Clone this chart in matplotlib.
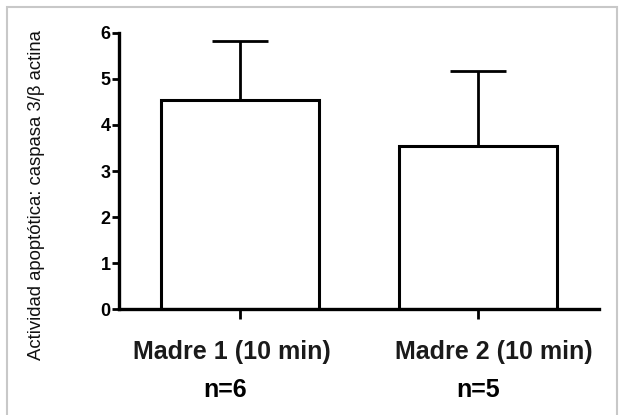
import matplotlib
matplotlib.use("Agg")
import matplotlib.pyplot as plt
from matplotlib.patches import Rectangle

groups = ["Madre 1 (10 min)", "Madre 2 (10 min)"]
n_labels = ["n=6", "n=5"]
means = [4.55, 3.55]
sd_upper = [1.28, 1.62]
yticks = [0, 1, 2, 3, 4, 5, 6]

fig = plt.figure(figsize=(6.22, 4.15), dpi=100)
ax = fig.add_axes([0.1913, 0.2554, 0.7717, 0.6651])

x = list(range(len(groups)))
ax.bar(x, means, width=0.66, color="white", edgecolor="black", linewidth=2.2, zorder=2)
ax.errorbar(x, means, yerr=[[0] * len(means), sd_upper], fmt="none", ecolor="black",
            elinewidth=2, capsize=20, capthick=2, zorder=1)

ax.set_xlim(-0.508, 1.508)
ax.set_ylim(0, 6)
ax.set_yticks(yticks)
ax.set_yticklabels([str(t) for t in yticks], fontfamily="Liberation Sans", fontweight="bold", fontsize=13)
ax.set_xticks(x)
ax.set_xticklabels([])
ax.tick_params(axis="y", width=2, length=5, direction="out", pad=1)
ax.tick_params(axis="x", width=2, length=7, direction="out")

for s in ["top", "right"]:
    ax.spines[s].set_visible(False)
for s in ["left", "bottom"]:
    ax.spines[s].set_linewidth(2.4)

ax.set_ylabel("Actividad apoptótica: caspasa 3/β actina", fontfamily="Liberation Sans",
              fontsize=13.3, color="#111111")
ax.yaxis.set_label_coords(-0.154, 0.413)

label_dx = [-0.034, 0.067]
n_dx = [-0.063, 0.0]
trans = ax.get_xaxis_transform()
for i, (g, nl) in enumerate(zip(groups, n_labels)):
    ax.text(x[i] + label_dx[i], -0.157, g, transform=trans, ha="center", va="center",
            fontfamily="Liberation Sans", fontweight="bold", fontsize=18, color="#1a1a1a")
    ax.text(x[i] + n_dx[i], -0.295, nl, transform=trans, ha="center", va="center",
            fontfamily="Liberation Sans", fontweight="bold", fontsize=18)

fig.patches.append(Rectangle((7 / 622, -0.02), 610 / 622, 1.02 - 7 / 415, transform=fig.transFigure,
                             fill=False, edgecolor="#c8c8c8", linewidth=1.5))

fig.savefig("out.png", dpi=100)
